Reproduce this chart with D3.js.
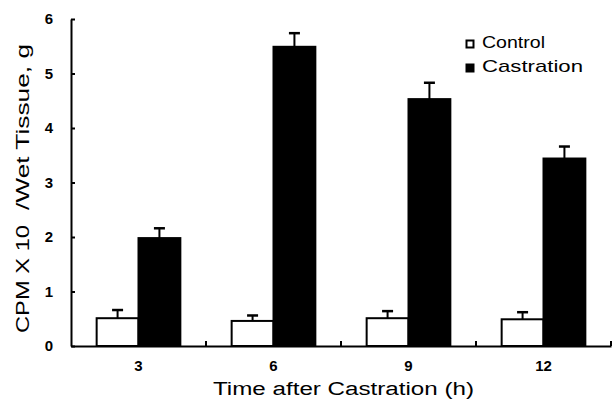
<!DOCTYPE html>
<html>
<head>
<meta charset="utf-8">
<script src="https://cdn.jsdelivr.net/npm/d3@7"></script>
<style>
body { margin: 0; background: #fff; }
svg { display: block; font-family: Arial, "Liberation Sans", sans-serif; }
</style>
</head>
<body>
<div id="chart"></div>
<script>
var categories = ["3", "6", "9", "12"]
var seriesNames = ["Control", "Castration"]
var control = [0.51, 0.46, 0.51, 0.49]
var controlErr = [0.15, 0.10, 0.13, 0.13]
var castration = [1.98, 5.49, 4.53, 3.44]
var castrationErr = [0.18, 0.25, 0.30, 0.22]
var yTicks = [0, 1, 2, 3, 4, 5, 6]

var w = 613, h = 408
var mLeft = 71, mRight = 611, mTop = 19, mBottom = 346

var svg = d3.select("#chart").append("svg")
    .attr("width", w)
    .attr("height", h)

var x0 = d3.scaleBand()
    .domain(categories)
    .range([mLeft, mRight])
    .padding(0)

var bw = x0.bandwidth()
var x1 = d3.scaleBand()
    .domain(seriesNames)
    .range([bw * 0.19, bw * 0.81])
    .padding(0)

var y = d3.scaleLinear()
    .domain([0, 6])
    .range([mBottom, mTop])

// table of bars
var rows = []
categories.forEach(function(c, i) {
    rows.push({ cat: c, key: "Control", v: control[i], e: controlErr[i] })
    rows.push({ cat: c, key: "Castration", v: castration[i], e: castrationErr[i] })
})

/* les barres */
svg.append("g").selectAll("rect")
    .data(rows)
    .enter().append("rect")
    .attr("x", function(d) { return x0(d.cat) + x1(d.key) })
    .attr("y", function(d) { return y(d.v) })
    .attr("width", x1.bandwidth())
    .attr("height", function(d) { return mBottom - y(d.v) })
    .attr("fill", function(d) { return d.key == "Control" ? "#fff" : "#000" })
    .attr("stroke", "#000")
    .attr("stroke-width", 2)

/* barres d'erreur */
var err = svg.append("g").selectAll("g")
    .data(rows)
    .enter().append("g")
    .attr("transform", function(d) {
        return "translate(" + (x0(d.cat) + x1(d.key) + x1.bandwidth() / 2) + ",0)"
    })
err.append("line")
    .attr("y1", function(d) { return y(d.v) })
    .attr("y2", function(d) { return y(d.v + d.e) })
    .attr("stroke", "#000")
    .attr("stroke-width", 2)
err.append("line")
    .attr("x1", -5.5).attr("x2", 5.5)
    .attr("y1", function(d) { return y(d.v + d.e) })
    .attr("y2", function(d) { return y(d.v + d.e) })
    .attr("stroke", "#000")
    .attr("stroke-width", 2.5)

/* axe y */
var yAxis = svg.append("g")
    .attr("transform", "translate(" + mLeft + ",0)")
    .call(d3.axisLeft(y).tickValues(yTicks).tickFormat(d3.format("d")).tickSizeInner(-4).tickSizeOuter(0).tickPadding(18))
yAxis.select(".domain").attr("stroke-width", 2)
yAxis.selectAll(".tick line").attr("stroke-width", 2)
yAxis.selectAll(".tick text")
    .style("font-size", "15px")
    .style("font-weight", "bold")
    .style("font-family", "Arial, 'Liberation Sans', sans-serif")
    .attr("fill", "#000")

/* axe x */
var xAxis = svg.append("g")
    .attr("transform", "translate(0," + mBottom + ")")
    .call(d3.axisBottom(x0).tickSize(0).tickPadding(14))
xAxis.select(".domain").attr("stroke-width", 2)
xAxis.selectAll(".tick text")
    .style("font-size", "15px")
    .style("font-weight", "bold")
    .style("font-family", "Arial, 'Liberation Sans', sans-serif")
    .attr("fill", "#000")

// small ticks between groups
svg.append("g").selectAll("line")
    .data(categories)
    .enter().append("line")
    .attr("x1", function(d) { return x0(d) + bw })
    .attr("x2", function(d) { return x0(d) + bw })
    .attr("y1", mBottom)
    .attr("y2", mBottom - 5)
    .attr("stroke", "#000")
    .attr("stroke-width", 2)

/* titres */
svg.append("text")
    .attr("x", 213)
    .attr("y", 395)
    .attr("font-size", 18)
    .attr("textLength", 261)
    .attr("lengthAdjust", "spacingAndGlyphs")
    .text("Time after Castration (h)")

svg.append("text")
    .attr("transform", "translate(29,333) rotate(-90)")
    .attr("font-size", 19)
    .attr("textLength", 108)
    .attr("lengthAdjust", "spacingAndGlyphs")
    .text("CPM X 10")

svg.append("text")
    .attr("transform", "translate(29,210) rotate(-90)")
    .attr("font-size", 19)
    .attr("textLength", 166)
    .attr("lengthAdjust", "spacingAndGlyphs")
    .text("/Wet Tissue, g")

/* légende */
var leg = svg.append("g").selectAll("g")
    .data(seriesNames)
    .enter().append("g")
    .attr("transform", function(d, i) { return "translate(466," + (40 + i * 24) + ")" })
leg.append("rect")
    .attr("x", 0.5).attr("y", 0.5)
    .attr("width", 7).attr("height", 7)
    .attr("fill", function(d) { return d == "Control" ? "#fff" : "#000" })
    .attr("stroke", "#000")
    .attr("stroke-width", 2)
leg.append("text")
    .attr("x", 16)
    .attr("y", 8)
    .attr("font-size", 17)
    .attr("textLength", function(d) { return d == "Control" ? 63 : 101 })
    .attr("lengthAdjust", "spacingAndGlyphs")
    .text(function(d) { return d })
</script>
</body>
</html>
